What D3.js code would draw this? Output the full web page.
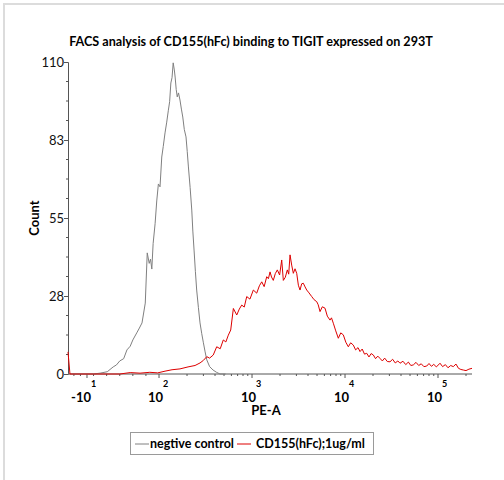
<!DOCTYPE html>
<html>
<head>
<meta charset="utf-8">
<script src="https://cdn.jsdelivr.net/npm/d3@7"></script>
<style>
  body { margin: 0; background: #fff; }
  svg { font-family: Lato, "Open Sans", sans-serif; }
</style>
</head>
<body>
<div id="chart"></div>
<script>
// PE-A intensity vs count
const greyX = [-39, -20, 0, 10, 21, 30, 35, 40, 46, 51, 56, 60, 66, 70, 74, 79, 82, 85, 87, 89, 91, 94, 96.5, 99,
  102.5, 107, 111, 116, 121, 126, 130, 134, 138, 142, 146, 149, 153, 157, 162, 168, 174, 180, 187, 195, 201, 207,
  216, 225, 231, 238, 246, 254, 265, 276, 288, 300, 313, 326, 350, 381, 415, 453, 520];
const greyY = [0, 0, 0, 0.3, 0.8, 2.5, 3.2, 4.6, 5.4, 8.5, 9.8, 12, 14.5, 16.2, 18, 25, 42.7, 39, 40.5, 37, 46, 53, 61, 67,
  66, 76.5, 80.2, 85, 88.8, 93, 96, 102.6, 104.5, 109.7, 107.2, 104.7, 100.3, 97.7, 99.1, 96.6, 93.4, 90.6, 86.2, 83.6, 78.5, 73,
  65.7, 57.8, 50.4, 43.7, 36.2, 29.6, 23.5, 18, 14.2, 11, 7.8, 5, 2.6, 1.4, 0.6, 0, 0];

const redX = [-39, -36, 0, 40, 56, 71, 86, 98, 116, 138, 168, 205, 244, 276, 300, 326, 350, 383, 417, 455, 491, 523,
  556, 590, 630, 685, 730, 775, 825, 877, 950, 1033, 1123, 1200, 1272, 1350, 1439, 1500, 1562, 1620, 1694, 1780, 1871,
  1980, 2086, 2171, 2280, 2396, 2480, 2563, 2670, 2781, 2900, 3024, 3150, 3282, 3420, 3561, 3720, 3874, 4100, 4385,
  4650, 4963, 5150, 5385, 5700, 6095, 6450, 6898, 7150, 7484, 7950, 8472, 9000, 9588, 10200, 10853, 11500, 12284, 13000,
  13800, 14500, 15300, 16200, 17116, 18100, 19100, 20160, 21300, 22500, 23785, 25200, 26700, 28500, 30470, 32500, 34700,
  37000, 39040, 42000, 45000, 48000, 51000, 54270, 58000, 62000, 66000, 70500, 75600, 80000, 85000, 90000, 96000,
  105100, 112000, 120000, 128000, 137000, 146000, 156000, 166000, 176000, 187100, 200000, 215000, 232000];
const redY = [7.8, 0, 0, 0, 0.5, 0.3, 0.6, 0.4, 1, 1.5, 1.8, 2.5, 3, 3.9, 4.8, 6.1, 5.6, 6.7, 9.6, 8.9, 12, 11.3,
  13.7, 15.5, 23.1, 20.8, 22.9, 24.3, 23.6, 27.3, 26.4, 29.6, 28.5, 31.1, 32.5, 30.8, 34.3, 33.6, 36, 34.2, 33, 35.4, 36.7,
  34.9, 40.2, 33, 34.1, 36.7, 35.2, 42, 38.4, 35.5, 37.1, 35.5, 31.3, 29.6, 31.8, 32, 30.7, 29.6, 28.6, 27.3,
  26.2, 25.5, 24.4, 22, 23.7, 23.2, 20.4, 19, 19.8, 17.9, 15.2, 12.6, 14.5, 13.8, 11.2, 9.6, 11, 10.2, 8.5,
  9.3, 7.9, 8.8, 7, 7.3, 6, 7.2, 6.7, 5.4, 6.3, 5.5, 4.6, 5.6, 4.4, 4.3, 5.2, 3.9,
  4.6, 3.8, 4.5, 3.3, 4.2, 3.0, 3.2, 4.1, 3.0, 3.6, 2.6, 2.8, 3.7, 2.7, 3.4, 2.5,
  3.8, 2.6, 3.3, 2.2, 3.0, 2.6, 3.5, 2.0, 1.6, 1.4, 1.2, 1.7, 2];

const yTicks = [0, 27.5, 55, 82.5, 110];
const xDecades = [-10, 100, 1000, 10000, 100000];
const xDecadeExp = ["1", "2", "3", "4", "5"];
const legendLabels = ["negtive control", "CD155(hFc);1ug/ml"];
const seriesColors = ["#808080", "#dd0000"];

const W = 504, H = 480;
const mLeft = 68, mRight = 472, mTop = 62, mBottom = 374;

// biexponential-like display: linear below 100, log above
const K = 142;
const tf = v => v >= 100 ? Math.log10(v) : 2 + (v - 100) / K;
const xs = d3.scaleLinear().domain([tf(-39), tf(232000)]).range([mLeft, mRight]);
const x = v => xs(tf(v));
const y = d3.scaleLinear().domain([0, 110]).range([mBottom, mTop]);

const svg = d3.select("#chart").append("svg")
  .attr("width", W).attr("height", H);

// faint frame at top and left
svg.append("path")
  .attr("d", `M4,${H} L4,4 L${W},4`)
  .attr("fill", "none").attr("stroke", "#dcdcdc").attr("stroke-width", 2);

svg.append("text")
  .attr("x", 251).attr("y", 46)
  .attr("text-anchor", "middle")
  .attr("font-size", 12.6).attr("font-weight", "bold")
  .text("FACS analysis of CD155(hFc) binding to TIGIT expressed on 293T");

// y axis
const yAxis = d3.axisLeft(y).tickValues(yTicks).tickSize(4).tickFormat(d => Math.round(d));
const gy = svg.append("g").attr("transform", `translate(${mLeft},0)`).call(yAxis);
gy.select(".domain").attr("stroke", "#555");
gy.selectAll(".tick line").attr("stroke", "#555");
gy.selectAll(".tick text").attr("font-size", 13).attr("fill", "#111").attr("font-family", "Lato, sans-serif").attr("dy", "0.35em").attr("x", -4);
const yMinor = d3.range(0, 110, 27.5 / 4).filter(v => !yTicks.includes(v));
svg.append("g").selectAll("line").data(yMinor).enter().append("line")
  .attr("x1", mLeft - 2).attr("x2", mLeft)
  .attr("y1", d => y(d)).attr("y2", d => y(d))
  .attr("stroke", "#555");

svg.append("text")
  .attr("transform", `translate(39,${(mTop + mBottom) / 2}) rotate(-90)`)
  .attr("text-anchor", "middle")
  .attr("font-size", 13).attr("font-weight", "bold")
  .text("Count");

// x axis
svg.append("line")
  .attr("x1", mLeft).attr("x2", mRight).attr("y1", mBottom).attr("y2", mBottom)
  .attr("stroke", "#555");
let xMinor = [-30, -20, 0, 20, 40, 60, 80];
[100, 1000, 10000, 100000].forEach(d => {
  for (let m = 2; m <= 9; m++) if (d * m <= 232000) xMinor.push(d * m);
});
svg.append("g").selectAll("line").data(xMinor).enter().append("line")
  .attr("x1", d => x(d)).attr("x2", d => x(d))
  .attr("y1", mBottom).attr("y2", mBottom + 2)
  .attr("stroke", "#555");
svg.append("g").selectAll("line").data(xDecades).enter().append("line")
  .attr("x1", d => x(d)).attr("x2", d => x(d))
  .attr("y1", mBottom).attr("y2", mBottom + 4)
  .attr("stroke", "#555");
const xl = svg.append("g").selectAll("g").data(xDecades).enter().append("g")
  .attr("transform", d => `translate(${x(d)},0)`);
xl.append("text")
  .attr("x", 4).attr("y", 402)
  .attr("text-anchor", "end")
  .attr("font-size", 13).attr("font-weight", "bold")
  .text(d => d < 0 ? "-10" : "10");
xl.append("text")
  .attr("x", 4).attr("y", 387)
  .attr("text-anchor", "start")
  .attr("font-size", 9).attr("font-weight", "bold")
  .text((d, i) => xDecadeExp[i]);

svg.append("text")
  .attr("x", 266).attr("y", 415)
  .attr("text-anchor", "middle")
  .attr("font-size", 13).attr("font-weight", "bold")
  .text("PE-A");

// histograms
const line = d3.line().x(d => x(d[0])).y(d => y(d[1]));
svg.append("path")
  .datum(greyX.map((v, i) => [v, greyY[i]]))
  .attr("d", line).attr("fill", "none")
  .attr("stroke", seriesColors[0]).attr("stroke-width", 1);
svg.append("path")
  .datum(redX.map((v, i) => [v, redY[i]]))
  .attr("d", line).attr("fill", "none")
  .attr("stroke", seriesColors[1]).attr("stroke-width", 1);

// legend
const lg = svg.append("g");
lg.append("rect")
  .attr("x", 130.5).attr("y", 432.5).attr("width", 243).attr("height", 22)
  .attr("fill", "#fff").attr("stroke", "#9a9a9a");
const items = [{ x0: 135, tx: 150 }, { x0: 237, tx: 256 }];
items.forEach((it, i) => {
  lg.append("line")
    .attr("x1", it.x0).attr("x2", it.x0 + 14).attr("y1", 444).attr("y2", 444)
    .attr("stroke", seriesColors[i]);
  lg.append("text")
    .attr("x", it.tx).attr("y", 448)
    .attr("font-size", 12.5).attr("font-weight", "bold")
    .text(legendLabels[i]);
});
</script>
</body>
</html>
